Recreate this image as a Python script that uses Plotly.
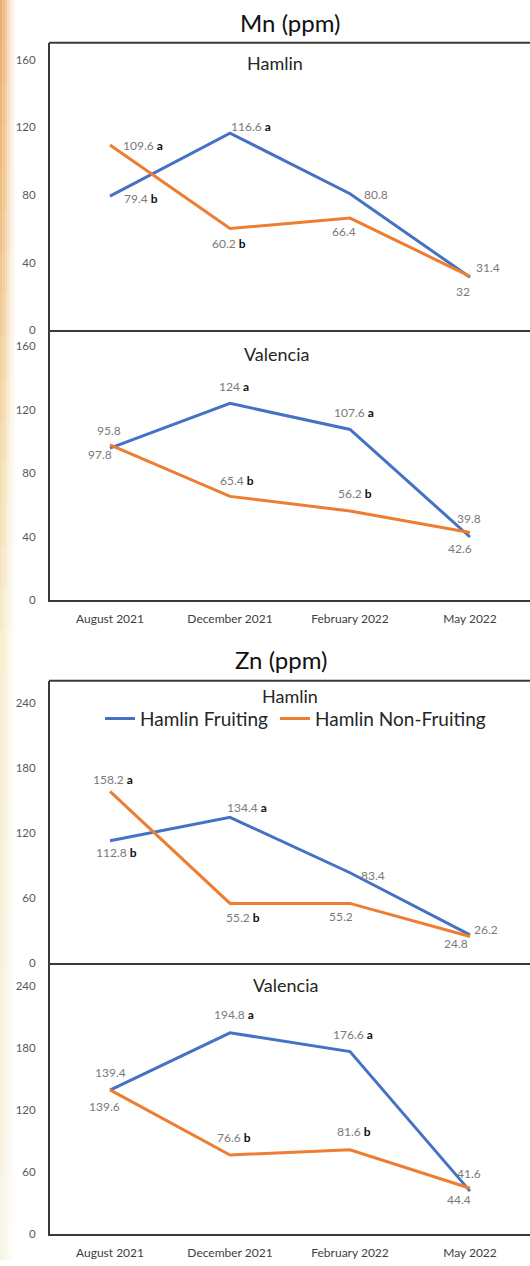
import plotly.graph_objects as go

# ---------------- data ----------------
months = ["August 2021", "December 2021", "February 2022", "May 2022"]

mn_hamlin_fruit = [79.4, 116.6, 80.8, 31.4]
mn_hamlin_nonfruit = [109.6, 60.2, 66.4, 32]
mn_valencia_fruit = [95.8, 124, 107.6, 39.8]
mn_valencia_nonfruit = [97.8, 65.4, 56.2, 42.6]
zn_hamlin_fruit = [112.8, 134.4, 83.4, 26.2]
zn_hamlin_nonfruit = [158.2, 55.2, 55.2, 24.8]
zn_valencia_fruit = [139.4, 194.8, 176.6, 41.6]
zn_valencia_nonfruit = [139.6, 76.6, 81.6, 44.4]

mn_hamlin_fruit_sig = ["b", "a", "", ""]
mn_hamlin_nonfruit_sig = ["a", "b", "", ""]
mn_valencia_fruit_sig = ["", "a", "a", ""]
mn_valencia_nonfruit_sig = ["", "b", "b", ""]
zn_hamlin_fruit_sig = ["b", "a", "", ""]
zn_hamlin_nonfruit_sig = ["a", "b", "", ""]
zn_valencia_fruit_sig = ["", "a", "a", ""]
zn_valencia_nonfruit_sig = ["", "b", "b", ""]

mn_ticks = [0, 40, 80, 120, 160]
zn_ticks = [0, 60, 120, 180, 240]

series_names = ["Hamlin Fruiting", "Hamlin Non-Fruiting"]
panel_titles = ["Hamlin", "Valencia", "Hamlin", "Valencia"]
chart_titles = ["Mn (ppm)", "Zn (ppm)"]

# ---------------- styling ----------------
W, H = 530, 1266
BLUE = "#4472C4"
ORANGE = "#ED7D31"
FONT = "Lato"
AXC = "#3a3a3a"

def py(px):  # pixel y -> paper y
    return 1 - px / H

def pxx(px):
    return px / W

# label offsets (dx, dy) in pixels, per point
off = {
    "mhf": [(31, -2), (21, 7), (26, -1), (18, 10)],
    "mhn": [(33, -1), (-1, -15), (-6, -13), (-7, -15)],
    "mvf": [(-1, 18), (4, 17), (4, 17), (-1, 18)],
    "mvn": [(-10, -10), (7, 16), (5, 17), (-10, -16)],
    "zhf": [(6, -12), (17, 10), (23, -3), (16, 5)],
    "zhn": [(3, 12), (13, -14), (-9, -13), (-14, -7)],
    "zvf": [(0, 18), (4, 18), (3, 17), (-1, 18)],
    "zvn": [(-6, -17), (4, 17), (4, 18), (-11, -11)],
}

panels = [
    dict(ax="", f=mn_hamlin_fruit, n=mn_hamlin_nonfruit, fs=mn_hamlin_fruit_sig, ns=mn_hamlin_nonfruit_sig,
         of="mhf", on="mhn", top=43, bot=332, rng=[0, 170], ticks=mn_ticks, xlab=False, legend=False),
    dict(ax="2", f=mn_valencia_fruit, n=mn_valencia_nonfruit, fs=mn_valencia_fruit_sig, ns=mn_valencia_nonfruit_sig,
         of="mvf", on="mvn", top=332, bot=603, rng=[0, 170], ticks=mn_ticks, xlab=True, legend=False),
    dict(ax="3", f=zn_hamlin_fruit, n=zn_hamlin_nonfruit, fs=zn_hamlin_fruit_sig, ns=zn_hamlin_nonfruit_sig,
         of="zhf", on="zhn", top=684, bot=968, rng=[0, 260], ticks=zn_ticks, xlab=False, legend=True),
    dict(ax="4", f=zn_valencia_fruit, n=zn_valencia_nonfruit, fs=zn_valencia_fruit_sig, ns=zn_valencia_nonfruit_sig,
         of="zvf", on="zvn", top=970, bot=1240, rng=[0, 260], ticks=zn_ticks, xlab=True, legend=False),
]
panel_title_pos = [(275, 63), (276, 356), (290, 699), (285, 990)]
chart_title_pos = [(290, 23), (281, 663)]

fig = go.Figure()
layout = {}
annotations = []
shapes = []

for i, p in enumerate(panels):
    xa = "x" + p["ax"]
    ya = "y" + p["ax"]
    for k, (vals, name, color) in enumerate([(p["f"], series_names[0], BLUE),
                                             (p["n"], series_names[1], ORANGE)]):
        fig.add_trace(go.Scatter(
            x=months, y=vals, mode="lines", name=name,
            line=dict(color=color, width=3), xaxis=xa, yaxis=ya,
            legend="legend" if k == 0 else "legend2",
            showlegend=p["legend"], hoverinfo="skip"))
    layout["xaxis" + p["ax"]] = dict(
        domain=[pxx(50), 1.0], range=[-0.5, 3.5], type="category",
        anchor=ya, showline=True, linecolor=AXC, linewidth=2,
        showgrid=False, zeroline=False, ticks="",
        showticklabels=p["xlab"], tickfont=dict(family=FONT, size=12, color="#404040"),
        ticklabelstandoff=6, fixedrange=True)
    layout["yaxis" + p["ax"]] = dict(
        domain=[py(p["bot"]), py(p["top"])], range=p["rng"], anchor=xa,
        tickvals=p["ticks"], showline=True, linecolor=AXC, linewidth=2,
        showgrid=False, zeroline=False, ticks="",
        tickfont=dict(family=FONT, size=11.5, color="#595959"),
        ticklabelstandoff=10, fixedrange=True)
    # data labels
    for vals, sig, key in [(p["f"], p["fs"], p["of"]), (p["n"], p["ns"], p["on"])]:
        for j, v in enumerate(vals):
            txt = "<span style='color:#7a7a7a'>%s</span>" % format(v, "g")
            if sig[j]:
                txt += " <b>%s</b>" % sig[j]
            dx, dy = off[key][j]
            annotations.append(dict(
                x=months[j], y=v, xref=xa, yref=ya, text=txt, showarrow=False,
                xanchor="center", yanchor="middle", xshift=dx, yshift=dy,
                font=dict(family=FONT, size=12, color="#111111")))
    # panel title
    tx, ty = panel_title_pos[i]
    annotations.append(dict(x=pxx(tx), y=py(ty), xref="paper", yref="paper", text=panel_titles[i],
                            showarrow=False, xanchor="center", yanchor="middle",
                            font=dict(family=FONT, size=18, color="#262626")))

# top frame lines
for top in (43, 684):
    shapes.append(dict(type="line", xref="paper", yref="paper", x0=pxx(49), x1=1.0,
                       y0=py(top), y1=py(top), line=dict(color=AXC, width=2)))

for t, (tx, ty) in zip(chart_titles, chart_title_pos):
    annotations.append(dict(x=pxx(tx), y=py(ty), xref="paper", yref="paper", text=t,
                            showarrow=False, xanchor="center", yanchor="middle",
                            font=dict(family=FONT, size=24, color="#111111")))

# decorative left gradient strip (background photo edge)
stops = [(0, (236, 168, 108)), (200, (239, 186, 122)), (420, (242, 214, 160)),
         (640, (244, 236, 200)), (1266, (247, 245, 228))]
def col_at(yv):
    for (y0, c0), (y1, c1) in zip(stops[:-1], stops[1:]):
        if y0 <= yv <= y1:
            t = (yv - y0) / (y1 - y0)
            return tuple(int(c0[k] + (c1[k] - c0[k]) * t) for k in range(3))
    return stops[-1][1]
nb = 30
stripe_alpha = [0.95, 0.8, 0.6, 0.4, 0.22, 0.1]
for b in range(nb):
    y0 = b * H / nb
    y1 = (b + 1) * H / nb
    c = col_at((y0 + y1) / 2)
    for s, a in enumerate(stripe_alpha):
        shapes.append(dict(type="rect", xref="paper", yref="paper", layer="below",
                           x0=pxx(s * 2.5), x1=pxx((s + 1) * 2.5), y0=py(y1), y1=py(y0),
                           line=dict(width=0), fillcolor="rgba(%d,%d,%d,%.2f)" % (c + (a,))))

legend_style = dict(orientation="h", xanchor="left", yanchor="middle",
                    font=dict(family=FONT, size=19, color="#262626"),
                    bgcolor="rgba(0,0,0,0)", borderwidth=0)

fig.update_layout(
    width=W, height=H, margin=dict(l=0, r=0, t=0, b=0),
    paper_bgcolor="white", plot_bgcolor="rgba(0,0,0,0)",
    font=dict(family=FONT),
    annotations=annotations, shapes=shapes,
    legend=dict(x=pxx(100), y=py(722), **legend_style),
    legend2=dict(x=pxx(275), y=py(722), **legend_style),
    **layout)

fig.write_html("out.html", config={"displayModeBar": False},
               post_script="document.body.style.margin='0';document.body.style.overflow='hidden';")
